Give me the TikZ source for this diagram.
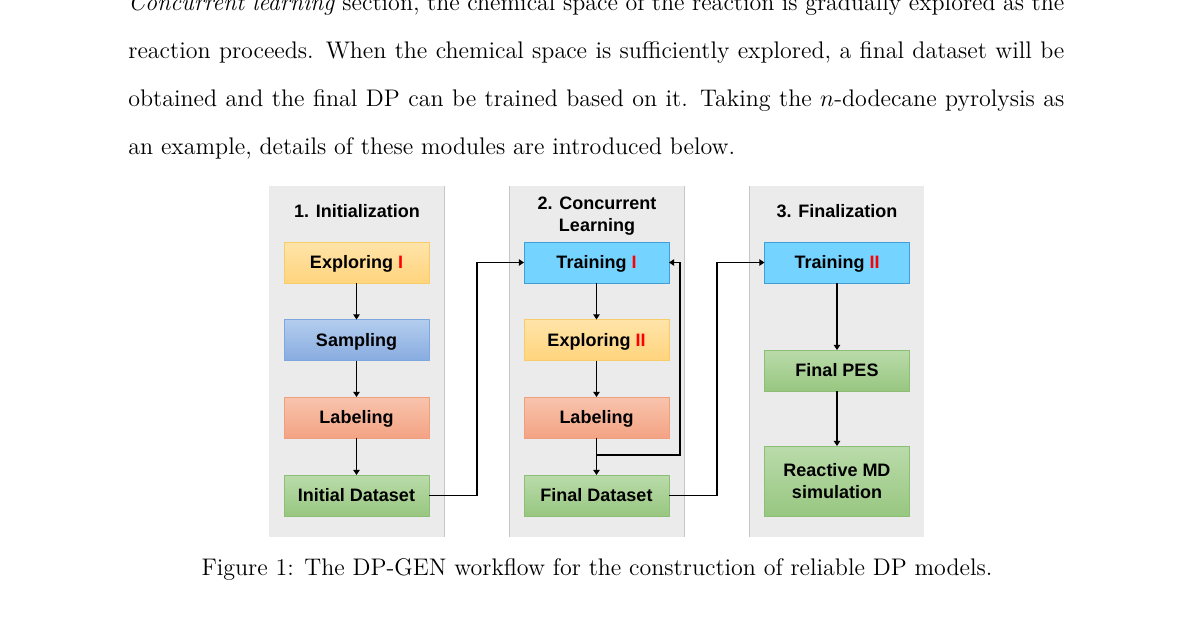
\documentclass[tikz,border=0pt]{standalone}
\usepackage{fontspec}
\newfontfamily\diagfont{Liberation Sans}
\usetikzlibrary{arrows.meta}
\definecolor{panelbg}{HTML}{EBEBEB}
\definecolor{panelline}{HTML}{C6C6C6}
\definecolor{expT}{HTML}{FFE4A9}
\definecolor{expB}{HTML}{FFD47D}
\definecolor{expD}{HTML}{F9CC6A}
\definecolor{smpT}{HTML}{B3CDEE}
\definecolor{smpB}{HTML}{88ACE0}
\definecolor{smpD}{HTML}{7EA6E0}
\definecolor{labT}{HTML}{F8C4AD}
\definecolor{labB}{HTML}{F4A384}
\definecolor{labD}{HTML}{F09E7C}
\definecolor{grnT}{HTML}{BADBAA}
\definecolor{grnB}{HTML}{98C781}
\definecolor{grnD}{HTML}{8DBE75}
\definecolor{trnF}{HTML}{74D4FF}
\definecolor{trnD}{HTML}{3F9FDB}
\definecolor{redI}{HTML}{FF0000}
\tikzset{
  panel/.style={fill=panelbg, draw=none},
  boxbase/.style={minimum width=72.5pt, minimum height=20.5pt, inner sep=0pt, outer sep=0pt,
    line width=0.5pt, font=\diagfont\bfseries\fontsize{9}{11}\selectfont, align=center},
  oneline/.style={text height=6.2pt, text depth=0pt},
  expbox/.style={boxbase, oneline, top color=expT, bottom color=expB, draw=expD},
  smpbox/.style={boxbase, oneline, top color=smpT, bottom color=smpB, draw=smpD},
  labbox/.style={boxbase, oneline, top color=labT, bottom color=labB, draw=labD},
  grnbox/.style={boxbase, oneline, top color=grnT, bottom color=grnB, draw=grnD},
  grnmulti/.style={boxbase, top color=grnT, bottom color=grnB, draw=grnD},
  trnbox/.style={boxbase, oneline, fill=trnF, draw=trnD},
  ptitle/.style={font=\diagfont\bfseries\fontsize{9}{11}\selectfont, inner sep=0pt, anchor=base},
  arr/.style={line width=0.85pt, draw=black, -{Triangle[length=2.6pt,width=3.2pt]}},
  bodytext/.style={font=\fontsize{12}{14.4}\selectfont, inner sep=0pt, anchor=base west}
}
\newcommand{\rI}{{\color{redI}I}}
\newcommand{\rII}{{\color{redI}II}}
\begin{document}
\begin{tikzpicture}[x=0.5pt,y=-0.5pt]
\useasboundingbox (0,0) rectangle (1196,622);
\clip (0,0) rectangle (1196,622);
\fill[white] (0,0) rectangle (1196,622);

% body text
\node[bodytext] (l1) at (128,10) {\makebox[468pt][s]{\emph{Concurrent learning} section, the chemical space of the reaction is gradually explored as the}};
\node[bodytext] (l2) at (128,58) {\makebox[468pt][s]{reaction proceeds. When the chemical space is sufficiently explored, a final dataset will be}};
\node[bodytext] (l3) at (128,106) {\makebox[468pt][s]{obtained and the final DP can be trained based on it. Taking the $n$-dodecane pyrolysis as}};
\node[bodytext] (l4) at (128,154) {an example, details of these modules are introduced below.};

% panels
\fill[panel] (269,186) rectangle (444,537);
\fill[panel] (509,186) rectangle (684,537);
\fill[panel] (749,186) rectangle (924,537);
\draw[panelline, line width=0.5pt] (444,186) -- (444,537);
\draw[panelline, line width=0.5pt] (509,186) -- (509,537);
\draw[panelline, line width=0.5pt] (684,186) -- (684,537);
\draw[panelline, line width=0.5pt] (749,186) -- (749,537);

% titles
\node[ptitle] (t1) at (357,217) {1. Initialization};
\node[ptitle] (t2a) at (597,209) {2. Concurrent};
\node[ptitle] (t2b) at (597,231) {Learning};
\node[ptitle] (t3) at (837,217) {3. Finalization};

% panel 1
\node[expbox] (exp1) at (356.5,262.5) {Exploring \rI};
\node[smpbox] (smp) at (356.5,340) {Sampling};
\node[labbox] (lab1) at (356.5,417.5) {Labeling};
\node[grnbox] (init) at (356.5,495.5) {Initial Dataset};

% panel 2
\node[trnbox] (trn1) at (596.5,262.5) {Training \rI};
\node[expbox] (exp2) at (596.5,340) {Exploring \rII};
\node[labbox] (lab2) at (596.5,417.5) {Labeling};
\node[grnbox] (fds) at (596.5,495.5) {Final Dataset};

% panel 3
\node[trnbox] (trn2) at (837,262.5) {Training \rII};
\node[grnbox] (pes) at (837,370.5) {Final PES};
\node[grnmulti, minimum height=35pt] (rmd) at (837,481) {Reactive MD\\simulation};

% connectors
\draw[arr] (exp1) -- (smp);
\draw[arr] (smp) -- (lab1);
\draw[arr] (lab1) -- (init);
\draw[arr] (init.east) -- ++(48,0) |- (trn1.west);

\draw[arr] (trn1) -- (exp2);
\draw[arr] (exp2) -- (lab2);
\draw[arr] (lab2) -- (fds);
\coordinate (br) at (596.5,455);
\draw[arr] (br) -- ++(83.5,0) |- (trn1.east);
\draw[arr] (fds.east) -- ++(48,0) |- (trn2.west);

\draw[arr] (trn2) -- (pes);
\draw[arr] (pes) -- (rmd);

% caption
\node[font=\fontsize{12}{14.4}\selectfont, inner sep=0pt, anchor=base] (cap) at (597,575) {Figure 1: The DP-GEN workflow for the construction of reliable DP models.};
\end{tikzpicture}
\end{document}
